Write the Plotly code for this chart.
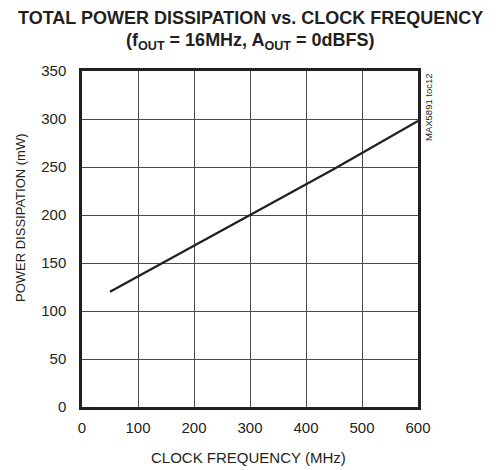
import plotly.graph_objects as go

freq_mhz = [50, 100, 150, 200, 250, 300, 350, 400, 450, 500, 550, 600]
power_mw = [120, 136, 152, 168, 184, 200, 215.5, 231.5, 248, 264.5, 281, 298]

x_ticks = [0, 100, 200, 300, 400, 500, 600]
y_ticks = [0, 50, 100, 150, 200, 250, 300, 350]

FONT = "Liberation Sans, Arial, sans-serif"
INK = "#231f20"

fig = go.Figure()
fig.add_trace(go.Scatter(x=freq_mhz, y=power_mw, mode="lines",
                         line=dict(color=INK, width=2.2),
                         showlegend=False))

fig.update_layout(
    width=492, height=462,
    margin=dict(l=74, r=82, t=63, b=63),
    paper_bgcolor="white", plot_bgcolor="white",
    font=dict(family=FONT, size=15, color=INK),
)
fig.update_xaxes(range=[0, 600], tickvals=x_ticks, showgrid=True, gridcolor="#4a4a4a", gridwidth=1,
                 showline=True, linecolor=INK, linewidth=2.5, mirror=True, ticks="",
                 zeroline=False, tickfont=dict(size=15), ticklabelstandoff=5)
fig.update_yaxes(range=[0, 350], tickvals=y_ticks, showgrid=True, gridcolor="#4a4a4a", gridwidth=1,
                 showline=True, linecolor=INK, linewidth=2.5, mirror=True, ticks="",
                 zeroline=False, tickfont=dict(size=15), ticklabelstandoff=10)

fig.add_annotation(xref="paper", yref="paper", x=0.497, y=0, yshift=-50, showarrow=False,
                   text="CLOCK FREQUENCY (MHz)", yanchor="middle", xanchor="center",
                   font=dict(family=FONT, size=15, color=INK))
fig.add_annotation(xref="paper", yref="paper", x=0, y=0.5625, xshift=-62, showarrow=False,
                   text="POWER DISSIPATION (mW)", textangle=-90, yanchor="middle", xanchor="center",
                   font=dict(family=FONT, size=13, color=INK))

fig.add_annotation(xref="paper", yref="paper", x=0.5, y=1, yshift=53, showarrow=False,
                   text="<b>TOTAL POWER DISSIPATION vs. CLOCK FREQUENCY</b>",
                   font=dict(family=FONT, size=18, color=INK), yanchor="middle")
fig.add_annotation(xref="paper", yref="paper", x=0.5, y=1, yshift=30, showarrow=False,
                   text="<b>(f<sub>OUT</sub> = 16MHz, A<sub>OUT</sub> = 0dBFS)</b>",
                   font=dict(family=FONT, size=18, color=INK), yanchor="middle")
fig.add_annotation(xref="paper", yref="paper", x=1, y=1, xshift=10, yshift=0, showarrow=False,
                   text="MAX5891 toc12", textangle=-90, xanchor="center", yanchor="top",
                   font=dict(family=FONT, size=9.5, color=INK))

fig.write_html("out.html")
